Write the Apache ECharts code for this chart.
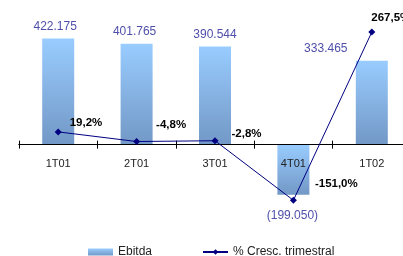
<!DOCTYPE html>
<html><head><meta charset="utf-8">
<script src="https://cdn.jsdelivr.net/npm/echarts@6/dist/echarts.min.js"></script>
<style>html,body{margin:0;padding:0;background:#fff}#c{width:403px;height:256px}</style>
</head><body><div id="c"></div>
<script>
const categories = ['1T01', '2T01', '3T01', '4T01', '1T02'];
const ebitda = [422.175, 401.765, 390.544, -199.050, 333.465];
const ebitdaLabels = ['422.175', '401.765', '390.544', '(199.050)', '333.465'];
const cresc = [19.2, -4.8, -2.8, -151.0, 267.5];
const crescLabels = ['19,2%', '-4,8%', '-2,8%', '-151,0%', '267,5%'];

const barLabelPos = ['top', 'top', 'top', 'bottom', 'top'];
const barLabelOffset = [[-3, 0], [-2, 0], [0, 0], [-1, 0], [-46, 0]];
const lineLabelOffset = [[8, -9], [16, -17], [13, -7], [18, -16], [-4, -14]];

const font = 'Liberation Sans, Arial, sans-serif';
const chart = echarts.init(document.getElementById('c'), null, {renderer: 'canvas'});
chart.setOption({
  animation: false,
  backgroundColor: '#fff',
  grid: {left: 19, width: 392, top: 19, height: 201, outerBoundsMode: 'none', containLabel: false},
  legend: {
    left: 83, top: 241, itemGap: 50, itemWidth: 25, itemHeight: 7,
    textStyle: {fontFamily: font, fontSize: 12, color: '#222'},
    data: [
      {name: 'Ebitda', icon: 'rect'},
      {name: '% Cresc. trimestral'}
    ]
  },
  xAxis: [{
    type: 'category', data: categories, boundaryGap: true, position: 'bottom', z: 4,
    axisLine: {onZero: true, onZeroAxisIndex: 0, lineStyle: {color: '#000', width: 1}},
    axisTick: {show: true, length: 4, lineStyle: {color: '#000'}},
    axisLabel: {fontFamily: font, fontSize: 11, color: '#222', margin: -62}
  }, {
    type: 'category', data: categories, boundaryGap: true, position: 'top', z: 4,
    axisLine: {show: true, onZero: true, onZeroAxisIndex: 2, lineStyle: {color: '#000', width: 1}},
    axisTick: {show: true, length: 4, lineStyle: {color: '#000'}},
    axisLabel: {show: false}
  }],
  yAxis: [{
    type: 'value', min: -300, max: 500, show: false, splitLine: {show: false}
  }, {
    type: 'value', min: -200, max: 300, show: false, splitLine: {show: false}
  }, {
    type: 'value', min: -300, max: 500, show: false, splitLine: {show: false}
  }],
  series: [{
    name: 'Ebitda', type: 'bar', barWidth: 32, xAxisIndex: 0, yAxisIndex: 0,
    itemStyle: {
      color: new echarts.graphic.LinearGradient(0, 0, 0, 1, [
        {offset: 0, color: '#99ccff'}, {offset: 1, color: '#7298c6'}
      ])
    },
    data: ebitda.map((v, i) => ({
      value: v,
      label: {
        show: true, position: barLabelPos[i], distance: barLabelPos[i] === 'bottom' ? 15 : 6,
        offset: barLabelOffset[i], formatter: ebitdaLabels[i],
        fontFamily: font, fontSize: 12, color: '#4f4faa'
      }
    }))
  }, {
    name: '% Cresc. trimestral', type: 'line', xAxisIndex: 0, yAxisIndex: 1, z: 5,
    symbol: 'diamond', symbolSize: 7,
    lineStyle: {color: '#000080', width: 1},
    itemStyle: {color: '#000080'},
    data: cresc.map((v, i) => ({
      value: v,
      label: {
        show: true, position: 'right', distance: 0, offset: lineLabelOffset[i],
        formatter: crescLabels[i], fontFamily: font, fontSize: 11.5, fontWeight: 'bold', color: '#000'
      }
    }))
  }]
});
</script></body></html>
